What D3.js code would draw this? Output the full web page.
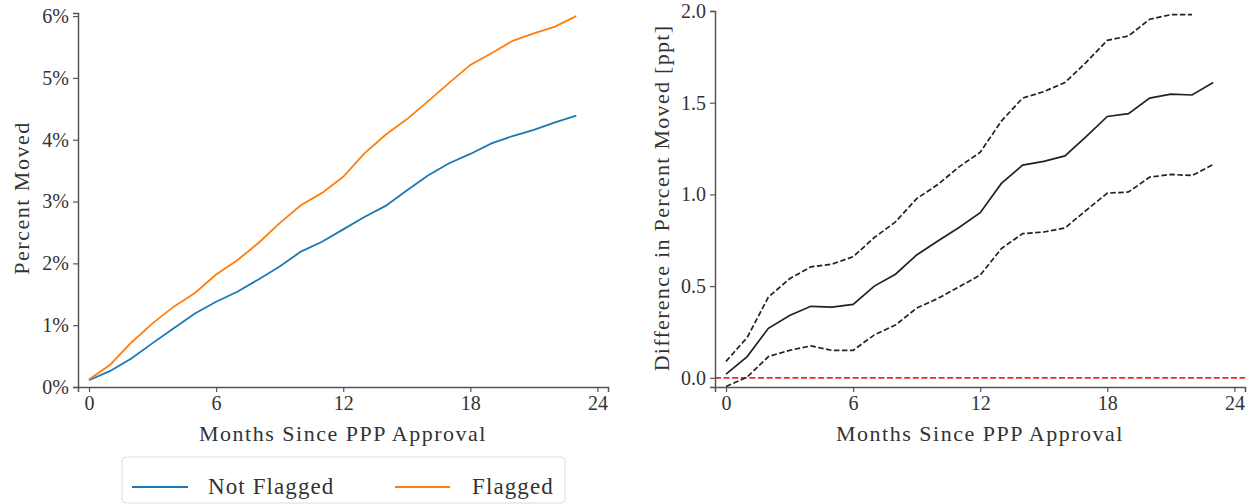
<!DOCTYPE html>
<html><head><meta charset="utf-8">
<script src="https://cdn.jsdelivr.net/npm/d3@7"></script>
<style>
body{margin:0;background:#fff;}
</style></head>
<body><svg id="c" width="1255" height="504"></svg>
<script>
const months = d3.range(0, 24);
const notFlagged = [0.11,0.26,0.46,0.71,0.95,1.19,1.38,1.54,1.74,1.95,2.19,2.35,2.55,2.75,2.93,3.18,3.42,3.62,3.77,3.94,4.06,4.16,4.28,4.39];
const flagged = [0.12,0.36,0.72,1.03,1.30,1.52,1.82,2.05,2.33,2.65,2.94,3.14,3.40,3.78,4.08,4.33,4.62,4.92,5.21,5.40,5.60,5.72,5.83,6.00];
const diff = [0.02,0.116,0.27,0.34,0.39,0.385,0.40,0.50,0.565,0.67,0.746,0.82,0.90,1.06,1.16,1.18,1.21,1.315,1.425,1.44,1.525,1.547,1.542,1.61];
const diffUpper = [0.09,0.22,0.44,0.54,0.605,0.62,0.66,0.765,0.85,0.977,1.054,1.15,1.23,1.40,1.525,1.56,1.61,1.72,1.84,1.864,1.955,1.98,1.98];
const diffLower = [-0.047,0.004,0.116,0.15,0.174,0.15,0.15,0.234,0.288,0.38,0.433,0.496,0.56,0.705,0.786,0.795,0.817,0.913,1.007,1.013,1.094,1.109,1.103,1.163];
const xTicks = [0,6,12,18,24];
const leftYTicks = [0,1,2,3,4,5,6];
const rightYTicks = [0,0.5,1.0,1.5,2.0];
const seriesNames = ["Not Flagged","Flagged"];
const seriesColors = ["#1f77b4","#ff7f0e"];

const FONT = "'Times New Roman', Tinos, 'Liberation Serif', 'DejaVu Serif', serif";
const svg = d3.select("#c");
const defs = svg.append("defs");

function axes(g, x, y, yTickVals, yFmt) {
  const xa = g.append("g").attr("transform", `translate(0,${y.range()[0]})`)
    .call(d3.axisBottom(x).tickValues(xTicks).tickSizeOuter(0).tickSize(5).tickPadding(4));
  const ya = g.append("g").attr("transform", `translate(${x.range()[0]},0)`)
    .call(d3.axisLeft(y).tickValues(yTickVals).tickFormat(yFmt).tickSizeOuter(0).tickSize(5).tickPadding(4));
  [xa, ya].forEach(a => {
    a.attr("font-family", null).attr("font-size", null);
    a.style("font-family", FONT).style("font-size", "20px");
    a.select(".domain").attr("stroke", "#555").attr("stroke-width", 1.5);
    a.selectAll(".tick line").attr("stroke", "#555").attr("stroke-width", 1.2);
    a.selectAll(".tick text").attr("fill", "#333");
  });
}
function title(g, txt, attrs, ls) {
  const t = g.append("text").style("font-family", FONT).attr("fill", "#333")
    .attr("text-anchor", "middle").style("font-size", "22px").attr("letter-spacing", ls).text(txt);
  Object.entries(attrs).forEach(([k, v]) => t.attr(k, v));
  return t;
}

// Left chart
const xL = d3.scaleLinear().domain([-0.52, 24.5]).range([78, 608]);
const yL = d3.scaleLinear().domain([0, 6.05]).range([387, 13]);
const gL = svg.append("g");
const lineL = d => d3.line().x((v, i) => xL(months[i])).y(v => yL(v))(d);
[notFlagged, flagged].forEach((s, k) => {
  gL.append("path").attr("d", lineL(s)).attr("fill", "none")
    .attr("stroke", seriesColors[k]).attr("stroke-width", 1.8);
});
axes(gL, xL, yL, leftYTicks, d => d + "%");
title(gL, "Months Since PPP Approval", {x: 343, y: 441}, 1.5);
title(gL, "Percent Moved", {transform: "translate(29,198) rotate(-90)"}, 1.5);

// Right chart
const xR = d3.scaleLinear().domain([-0.52, 24.5]).range([715, 1245]);
const yR = d3.scaleLinear().domain([-0.05, 2.0]).range([387, 11]);
defs.append("clipPath").attr("id", "clipR").append("rect")
  .attr("x", 715).attr("y", 11).attr("width", 530).attr("height", 376);
const gR = svg.append("g");
const gRc = gR.append("g").attr("clip-path", "url(#clipR)");
const lineR = d => d3.line().x((v, i) => xR(months[i])).y(v => yR(v))(d);
gRc.append("line").attr("x1", xR.range()[0]).attr("x2", xR.range()[1])
  .attr("y1", yR(0)).attr("y2", yR(0)).attr("stroke", "#f0282c").attr("stroke-width", 1.8)
  .attr("stroke-dasharray", "6,2.6");
gRc.append("path").attr("d", lineR(diffUpper)).attr("fill", "none").attr("stroke", "#222")
  .attr("stroke-width", 1.7).attr("stroke-dasharray", "5.5,2.5");
gRc.append("path").attr("d", lineR(diffLower)).attr("fill", "none").attr("stroke", "#222")
  .attr("stroke-width", 1.7).attr("stroke-dasharray", "5.5,2.5");
gRc.append("path").attr("d", lineR(diff)).attr("fill", "none").attr("stroke", "#222")
  .attr("stroke-width", 1.7);
axes(gR, xR, yR, rightYTicks, d3.format(".1f"));
title(gR, "Months Since PPP Approval", {x: 980, y: 441}, 1.5);
title(gR, "Difference in Percent Moved [ppt]", {transform: "translate(669,198) rotate(-90)"}, 1.3);

// Legend
const lg = svg.append("g");
lg.append("rect").attr("x", 122).attr("y", 457).attr("width", 443).attr("height", 46).attr("rx", 4)
  .attr("fill", "#fff").attr("stroke", "#ddd").attr("stroke-width", 1);
const legendItems = [{x1:132, x2:188, tx:208}, {x1:395, x2:450, tx:472}];
seriesNames.forEach((n, k) => {
  const it = legendItems[k];
  lg.append("line").attr("x1", it.x1).attr("x2", it.x2).attr("y1", 487).attr("y2", 487)
    .attr("stroke", seriesColors[k]).attr("stroke-width", 1.8);
  lg.append("text").attr("x", it.tx).attr("y", 494).style("font-family", FONT).attr("fill", "#333")
    .style("font-size", "23px").attr("letter-spacing", 1.1).text(n);
});
</script></body></html>
